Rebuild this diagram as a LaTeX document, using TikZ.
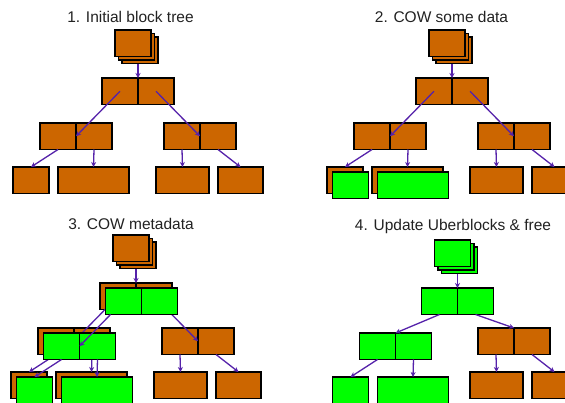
\documentclass[tikz,border=0pt]{standalone}
\usepackage{fontspec}
\setmainfont{Liberation Sans}
\usetikzlibrary{arrows.meta}
\definecolor{orangeblk}{RGB}{204,102,0}
\definecolor{greenblk}{RGB}{0,255,0}
\definecolor{arrowc}{RGB}{85,34,170}
\definecolor{titlec}{RGB}{34,34,34}
\tikzset{
  blk/.style={draw=black, line width=1.8pt, minimum height=26.5pt, inner sep=0pt, outer sep=0pt, anchor=north west},
  org/.style={blk, fill=orangeblk},
  grn/.style={blk, fill=greenblk},
  arr/.style={draw=arrowc, line width=1.3pt, -{Stealth[length=5pt,width=5pt]}},
  ttl/.style={font=\fontsize{15.5}{18}\selectfont, text=titlec, anchor=base, inner sep=0pt}
}
% stack of three blocks: prefix, x, y, style
\newcommand\tstack[4]{%
  \node[#4,minimum width=36pt] (#1c) at ({#2+7},{#3+7}) {};
  \node[#4,minimum width=36pt] (#1b) at ({#2+3.5},{#3+3.5}) {};
  \node[#4,minimum width=36pt] (#1a) at (#2,#3) {};}
% two-cell block: prefix, x, y, style
\newcommand\tpair[4]{%
  \node[#4,minimum width=36pt] (#1l) at (#2,#3) {};
  \node[#4,minimum width=36pt] (#1r) at (#1l.north east) {};}
% leaf block: name, x, y, width, style
\newcommand\tleaf[5]{%
  \node[#5,minimum width=#4pt] (#1) at (#2,#3) {};}
% arrows of the original tree
\newcommand\tarrows[1]{%
  \draw[arr] (#10c.south -| #11l.east) -- (#11l.north east);
  \draw[arr] (#11l.center) -- (#12r.west);
  \draw[arr] (#11r.center) -- (#13l.east);
  \draw[arr] (#12l.south) -- (#14.north);
  \draw[arr] (#12r.south) -- (#15.north);
  \draw[arr] (#13l.south) -- (#16.north);
  \draw[arr] (#13r.south) -- (#17.north);}
\newcommand\ttree[2]{%
  \tstack{#10}{115}{30}{#2}
  \tpair{#11}{102}{78}{#2}
  \tpair{#12}{40}{123}{#2}
  \tpair{#13}{164}{123}{#2}
  \tleaf{#14}{13}{167}{36}{#2}
  \tleaf{#15}{58}{167}{71}{#2}
  \tleaf{#16}{156}{167}{53}{#2}
  \tleaf{#17}{218}{167}{45}{#2}}

\begin{document}
\begin{tikzpicture}[x=1pt,y=-1pt]
\useasboundingbox (0,0) rectangle (565,402);
\fill[white] (0,0) rectangle (565,402);
\clip (0,0) rectangle (565,402);

% titles
\node[ttl] (t1) at (130.5,22.5) {1. Initial block tree};
\node[ttl] (t2) at (441.5,22) {2. COW some data};
\node[ttl] (t3) at (131,229.5) {3. COW metadata};
\node[ttl] (t4) at (453,230) {4. Update Uberblocks \& free};

% Panel 1
\ttree{a}{org}
\tarrows{a}

% Panel 2
\begin{scope}[shift={(314,0)}]
  \ttree{b}{org}
  \tarrows{b}
  \begin{scope}[shift={(5.5,5)}]
    \tleaf{b4g}{13}{167}{36}{grn}
    \tleaf{b5g}{58}{167}{71}{grn}
  \end{scope}
\end{scope}

% Panel 3
\begin{scope}[shift={(-2,205)}]
  \ttree{c}{org}
  \tarrows{c}
  \begin{scope}[shift={(5.5,5)}]
    \tpair{c1g}{102}{78}{grn}
    \tpair{c2g}{40}{123}{grn}
    \tleaf{c4g}{13}{167}{36}{grn}
    \tleaf{c5g}{58}{167}{71}{grn}
  \end{scope}
  \draw[arr] (c2gl.south) -- (c4g.north);
  \draw[arr] (c2gr.south) -- (c5g.north);
  \draw[arr] (c1gl) -- (c2gr.west);
\end{scope}

% Panel 4
\begin{scope}[shift={(314,205)}]
  \begin{scope}[shift={(5.5,5)}]
    \tstack{d0}{115}{30}{grn}
    \tpair{d1}{102}{78}{grn}
    \tpair{d2}{40}{123}{grn}
    \tleaf{d4}{13}{167}{36}{grn}
    \tleaf{d5}{58}{167}{71}{grn}
  \end{scope}
  \tpair{d3}{164}{123}{org}
  \tleaf{d6}{156}{167}{53}{org}
  \tleaf{d7}{218}{167}{45}{org}
  \draw[arr] (d0c.south -| d1l.east) -- (d1l.north east);
  \draw[arr] (d1l.south) -- (d2l.north east);
  \draw[arr] (d1r.south) -- (d3l.north east);
  \draw[arr] (d2l.south) -- (d4.north);
  \draw[arr] (d2r.south) -- (d5.north);
  \draw[arr] (d3l.south) -- (d6.north);
  \draw[arr] (d3r.south) -- (d7.north);
\end{scope}
\end{tikzpicture}
\end{document}
